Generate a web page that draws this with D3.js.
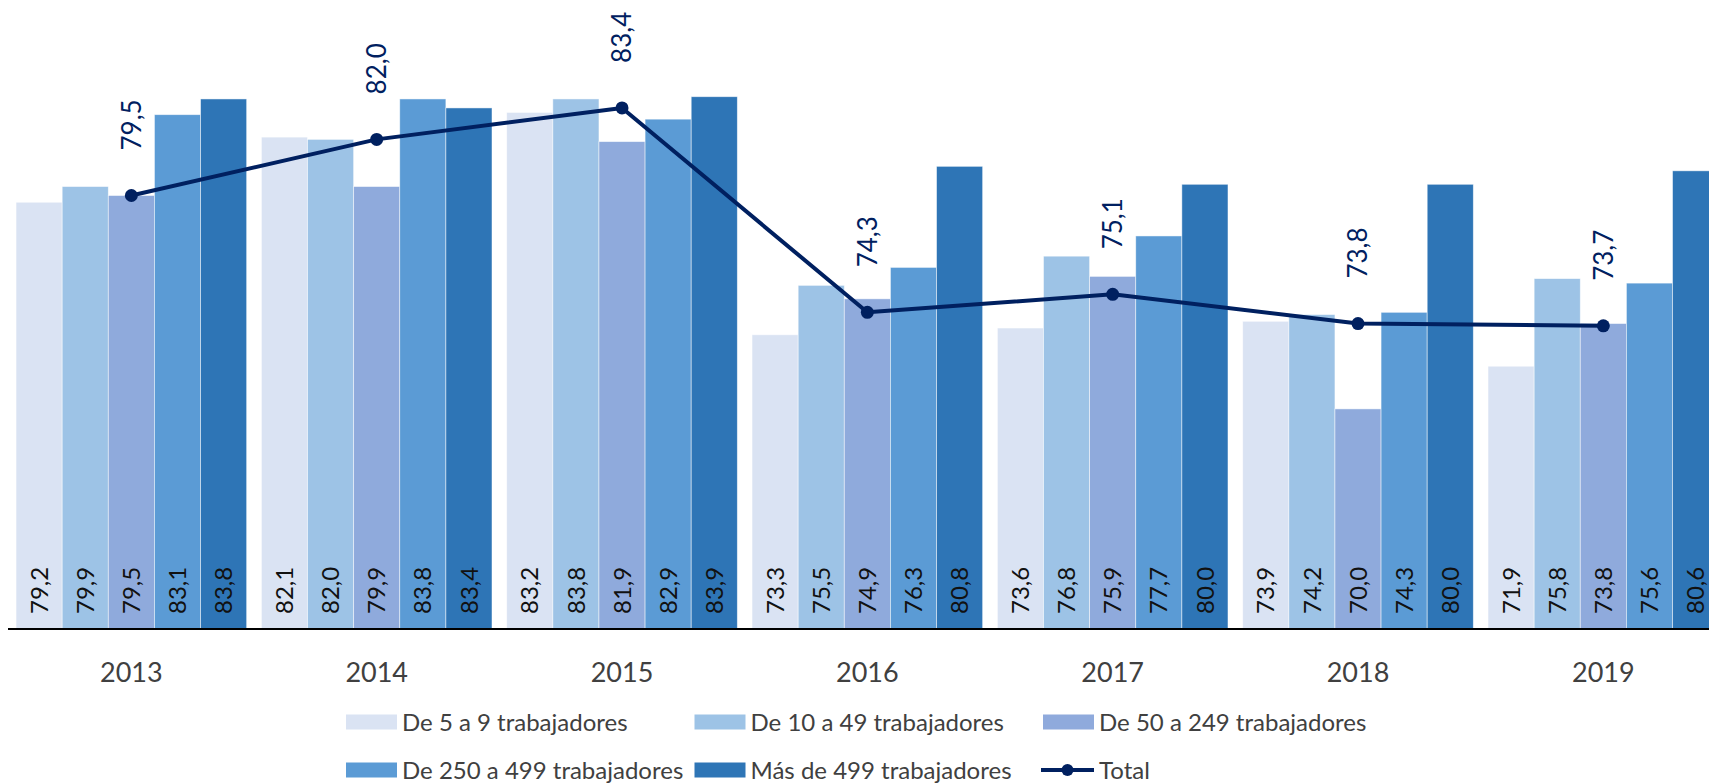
<!DOCTYPE html>
<html>
<head>
<meta charset="utf-8">
<script src="https://cdn.jsdelivr.net/npm/d3@7"></script>
<style>
  body { margin: 0; background: #fff; }
  svg { display: block; font-family: Lato, "Noto Sans", sans-serif; }
</style>
</head>
<body>
<svg width="1709" height="784"></svg>
<script>
var years = ["2013", "2014", "2015", "2016", "2017", "2018", "2019"];
var series = ["De 5 a 9 trabajadores", "De 10 a 49 trabajadores", "De 50 a 249 trabajadores",
              "De 250 a 499 trabajadores", "Más de 499 trabajadores"];
var colors = ["#dae3f3", "#9dc3e6", "#8faadc", "#5b9bd5", "#2e75b6"];

// one array per size band, one value per year
var de5a9     = [79.2, 82.1, 83.2, 73.3, 73.6, 73.9, 71.9];
var de10a49   = [79.9, 82.0, 83.8, 75.5, 76.8, 74.2, 75.8];
var de50a249  = [79.5, 79.9, 81.9, 74.9, 75.9, 70.0, 73.8];
var de250a499 = [83.1, 83.8, 82.9, 76.3, 77.7, 74.3, 75.6];
var mas499    = [83.8, 83.4, 83.9, 80.8, 80.0, 80.0, 80.6];
var total     = [79.5, 82.0, 83.4, 74.3, 75.1, 73.8, 73.7];

var values = [de5a9, de10a49, de50a249, de250a499, mas499];

var es = d3.formatLocale({decimal: ",", thousands: ".", grouping: [3], currency: ["", " €"]});
var fmt = es.format(".1f");

var svg = d3.select("svg");

// scales (the chart runs off the right edge, like the original)
var x = d3.scaleBand().domain(years).range([8.7, 1726]).paddingInner(0.06).paddingOuter(0.03);
var xs = d3.scaleBand().domain(d3.range(series.length)).range([0, x.bandwidth()]);
var y = d3.scaleLinear().domain([60.2, 85]).range([629, 72]);

// bars
var groups = svg.append("g").selectAll("g").data(years).enter()
  .append("g").attr("transform", function(d){ return "translate(" + x(d) + ",0)"; });

groups.selectAll("rect")
  .data(function(d, i){ return values.map(function(v, s){ return {s: s, v: v[i]}; }); })
  .enter().append("rect")
  .attr("x", function(d){ return xs(d.s); })
  .attr("y", function(d){ return y(d.v); })
  .attr("width", xs.bandwidth())
  .attr("height", function(d){ return y(60.2) - y(d.v); })
  .attr("fill", function(d){ return colors[d.s]; })
  .attr("stroke", "#fff").attr("stroke-width", 0.8).attr("stroke-opacity", 0.6);

// bar labels, rotated, sitting on the axis
groups.selectAll("text")
  .data(function(d, i){ return values.map(function(v, s){ return {s: s, v: v[i]}; }); })
  .enter().append("text")
  .attr("transform", function(d){ return "translate(" + (xs(d.s) + xs.bandwidth() / 2) + ",614) rotate(-90)"; })
  .attr("dy", "0.36em")
  .style("font-size", "24px")
  .style("fill", "#111")
  .text(function(d){ return fmt(d.v); });

// x axis
var x_axis = d3.axisBottom(x).tickSize(0).tickPadding(0);
var ax = svg.append("g").attr("transform", "translate(0," + y(60.2) + ")").call(x_axis);
ax.select(".domain").attr("d", "M8,0H1709").attr("stroke", "#000").attr("stroke-width", 2);
ax.selectAll(".tick text").attr("y", 53).attr("dy", 0)
  .style("font-size", "27px").style("font-family", "Lato, 'Noto Sans', sans-serif").style("fill", "#404040");

// total line
var cx = function(i){ return x(years[i]) + x.bandwidth() / 2; };
var line = d3.line().x(function(d, i){ return cx(i); }).y(function(d){ return y(d); });
svg.append("path").datum(total).attr("d", line)
  .attr("fill", "none").attr("stroke", "#002060").attr("stroke-width", 4).attr("stroke-linejoin", "round");
svg.append("g").selectAll("circle").data(total).enter().append("circle")
  .attr("cx", function(d, i){ return cx(i); }).attr("cy", function(d){ return y(d); })
  .attr("r", 6.5).attr("fill", "#002060");
svg.append("g").selectAll("text").data(total).enter().append("text")
  .attr("transform", function(d, i){ return "translate(" + cx(i) + "," + (y(d) - 45) + ") rotate(-90)"; })
  .attr("dy", "0.36em")
  .style("font-size", "26px")
  .style("fill", "#002060")
  .text(function(d){ return fmt(d); });

// legend
var legendItems = series.concat(["Total"]);
var legend = svg.append("g").selectAll("g").data(legendItems).enter().append("g")
  .attr("transform", function(d, i){ return "translate(" + (346 + (i % 3) * 348.5) + "," + (722 + Math.floor(i / 3) * 48) + ")"; });
legend.filter(function(d, i){ return i < 5; }).append("rect")
  .attr("x", 0).attr("y", -7.5).attr("width", 51).attr("height", 15)
  .attr("fill", function(d, i){ return colors[i]; });
var tl = legend.filter(function(d, i){ return i == 5; });
tl.append("line").attr("x1", -2).attr("x2", 51).attr("y1", 0).attr("y2", 0)
  .attr("stroke", "#002060").attr("stroke-width", 4);
tl.append("circle").attr("cx", 24.5).attr("cy", 0).attr("r", 6).attr("fill", "#002060");
legend.append("text")
  .attr("x", 56).attr("dy", "0.36em")
  .style("font-size", "24px").style("fill", "#404040")
  .text(function(d){ return d; });
</script>
</body>
</html>
